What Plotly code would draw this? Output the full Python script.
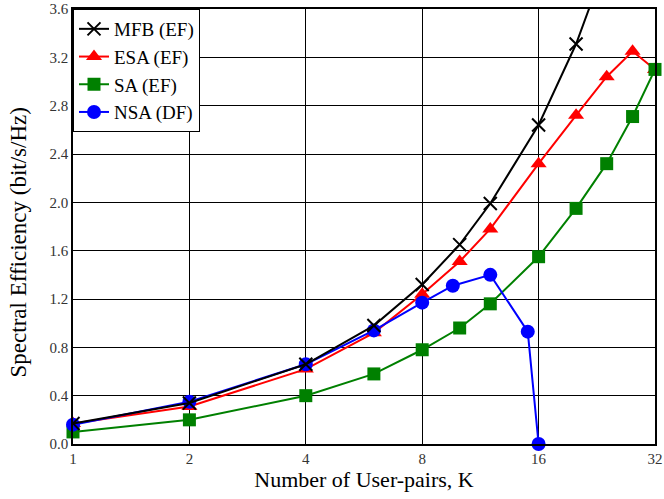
import plotly.graph_objects as go

k_mfb = [1, 2, 4, 6, 8, 10, 12, 16, 20, 24]
se_mfb = [0.17, 0.34, 0.66, 0.98, 1.32, 1.65, 1.99, 2.64, 3.31, 4.0]

k_esa = [1, 2, 4, 6, 8, 10, 12, 16, 20, 24, 28, 32]
se_esa = [0.17, 0.31, 0.62, 0.92, 1.24, 1.51, 1.78, 2.32, 2.72, 3.04, 3.25, 3.10]

k_sa = [1, 2, 4, 6, 8, 10, 12, 16, 20, 24, 28, 32]
se_sa = [0.10, 0.20, 0.40, 0.58, 0.78, 0.96, 1.16, 1.55, 1.95, 2.32, 2.71, 3.10]

k_nsa = [1, 2, 4, 6, 8, 9.6, 12, 15, 16]
se_nsa = [0.16, 0.35, 0.66, 0.94, 1.17, 1.31, 1.40, 0.93, 0.0]

x_ticks = [1, 2, 4, 8, 16, 32]
y_ticks = [0.0, 0.4, 0.8, 1.2, 1.6, 2.0, 2.4, 2.8, 3.2, 3.6]

FONT = "Liberation Serif"

fig = go.Figure()
fig.add_trace(go.Scatter(x=k_esa, y=se_esa, name="ESA (EF)", mode="lines+markers",
                         line=dict(color="#ff0000", width=2),
                         marker=dict(symbol="triangle-up", size=14, color="#ff0000"),
                         legendrank=2, cliponaxis=True))
fig.add_trace(go.Scatter(x=k_sa, y=se_sa, name="SA (EF)", mode="lines+markers",
                         line=dict(color="#008000", width=2),
                         marker=dict(symbol="square", size=13, color="#008000"),
                         legendrank=3, cliponaxis=False))
fig.add_trace(go.Scatter(x=k_nsa, y=se_nsa, name="NSA (DF)", mode="lines+markers",
                         line=dict(color="#0000ff", width=2),
                         marker=dict(symbol="circle", size=14, color="#0000ff"),
                         legendrank=4, cliponaxis=False))
fig.add_trace(go.Scatter(x=k_mfb, y=se_mfb, name="MFB (EF)", mode="lines+markers",
                         line=dict(color="#000000", width=2),
                         marker=dict(symbol="x-thin", size=13, color="#000000",
                                     line=dict(color="#000000", width=2)),
                         legendrank=1, cliponaxis=True))

fig.update_layout(
    width=664, height=499,
    margin=dict(l=73, r=9, t=9, b=55, autoexpand=False),
    paper_bgcolor="white", plot_bgcolor="white",
    font=dict(family=FONT, color="#000000"),
    showlegend=True,
    legend=dict(x=0, y=1, xanchor="left", yanchor="top",
                bgcolor="white", bordercolor="#000000", borderwidth=1,
                font=dict(family=FONT, size=19, color="#000000"),
                tracegroupgap=0, itemwidth=30),
    xaxis=dict(type="log", range=[0, 1.50515], tickvals=x_ticks,
               ticktext=[str(v) for v in x_ticks], automargin=False,
               showgrid=True, gridcolor="#000000", gridwidth=1.4,
               showline=True, linecolor="#000000", linewidth=1.5, mirror=True,
               ticks="", zeroline=False,
               tickfont=dict(family=FONT, size=15, color="#333333"),
               title=dict(text="Number of User-pairs, K", standoff=6,
                          font=dict(family=FONT, size=22, color="#000000"))),
    yaxis=dict(range=[0, 3.6], tickvals=y_ticks,
               ticktext=[f"{v:.1f}" for v in y_ticks], automargin=False,
               showgrid=True, gridcolor="#000000", gridwidth=1.4,
               showline=True, linecolor="#000000", linewidth=1.5, mirror=True,
               ticks="", zeroline=False,
               tickfont=dict(family=FONT, size=15, color="#333333")),
    annotations=[dict(text="Spectral Efficiency (bit/s/Hz)", textangle=-90,
                      xref="paper", yref="paper", x=-0.094, y=0.464,
                      xanchor="center", yanchor="middle", showarrow=False,
                      font=dict(family=FONT, size=23, color="#000000"))],
)

fig.write_html("out.html")
